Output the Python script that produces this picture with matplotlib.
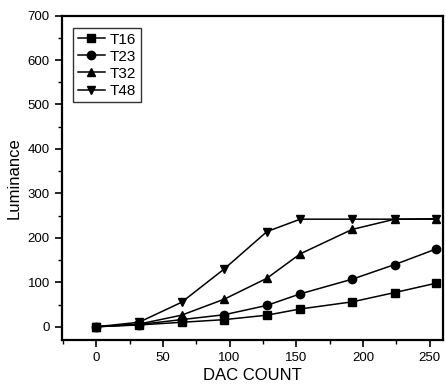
import matplotlib
matplotlib.use("Agg")
import matplotlib.pyplot as plt
from matplotlib.ticker import MultipleLocator

plt.rcParams['font.family'] = ['Liberation Sans', 'DejaVu Sans']

dac = [0, 32, 64, 96, 128, 153, 192, 224, 255]
t16 = [0, 4, 10, 16, 26, 40, 56, 77, 98]
t23 = [0, 5, 16, 27, 48, 74, 107, 140, 175]
t32 = [0, 6, 26, 62, 109, 164, 219, 242, 243]
t48 = [0, 10, 55, 130, 214, 242, 242, 242, 242]
series = [("T16", t16, "s"), ("T23", t23, "o"), ("T32", t32, "^"), ("T48", t48, "v")]

fig = plt.figure(figsize=(4.46, 3.9), dpi=100)
ax = fig.add_axes([0.138, 0.128, 0.855, 0.832])
for name, vals, m in series:
    ax.plot(dac, vals, color="black", lw=1.1, marker=m, ms=6, label=name)

ax.set_xlim(-26, 260)
ax.set_ylim(-30, 700)
ax.xaxis.set_major_locator(MultipleLocator(50))
ax.xaxis.set_minor_locator(MultipleLocator(25))
ax.yaxis.set_major_locator(MultipleLocator(100))
ax.yaxis.set_minor_locator(MultipleLocator(50))
ax.tick_params(which="major", direction="out", length=5, width=1.2, labelsize=9.5)
ax.tick_params(which="minor", direction="out", length=3, width=1)
for s in ax.spines.values():
    s.set_linewidth(1.6)

ax.set_xlabel("DAC COUNT", fontsize=12, labelpad=3)
ax.set_ylabel("Luminance", fontsize=12, labelpad=4)

leg = ax.legend(loc="upper left", bbox_to_anchor=(0.01, 0.985), fontsize=11,
                frameon=True, fancybox=False, edgecolor="black",
                handlelength=1.8, handletextpad=0.3, borderpad=0.3,
                labelspacing=0.2)
leg.get_frame().set_linewidth(1.0)

fig.savefig("out.png", dpi=100)
